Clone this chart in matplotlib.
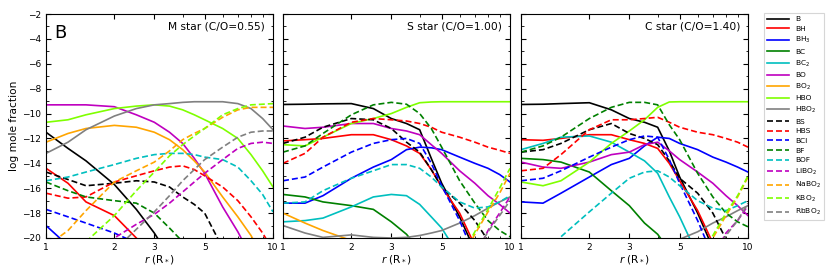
import numpy as np
import matplotlib
matplotlib.use("Agg")
import matplotlib.pyplot as plt
from matplotlib.ticker import FixedLocator, FixedFormatter, MultipleLocator, NullFormatter

n = np.nan

# radius grid (stellar radii)
R = [1, 1.25, 1.5, 2, 2.5, 3, 3.5, 4, 4.5, 5, 6, 7, 8, 9, 10]

SPECIES = ["B", "BH", "BH$_3$", "BC", "BC$_2$", "BO", "BO$_2$", "HBO", "HBO$_2$",
           "BS", "HBS", "BCl", "BF", "BOF", "LiBO$_2$", "NaBO$_2$", "KBO$_2$", "RbBO$_2$"]
COLORS = ["k", "r", "b", "g", "c", "m", "orange", "chartreuse", "gray"] * 2
STYLES = ["-"] * 9 + ["--"] * 9

# ---- M star (C/O=0.55) ----
M_B = [-11.5, -12.8, -13.8, -15.7, -17.7, -19.6, -21.5, n, n, n, n, n, n, n, n]
M_BH = [-14.4, -15.6, -17.1, -18.2, -20.0, -21.5, n, n, n, n, n, n, n, n, n]
M_BH3 = [-19.0, -20.6, n, n, n, n, n, n, n, n, n, n, n, n, n]
M_BC = [n] * 15
M_BC2 = [n] * 15
M_BO = [-9.3, -9.3, -9.3, -9.45, -10.1, -10.7, -11.5, -12.4, -13.6, -14.8, -17.5, -19.5, -21.5, n, n]
M_BO2 = [-12.3, -11.6, -11.2, -10.95, -11.1, -11.5, -12.1, -12.9, -13.8, -14.7, -16.7, -18.3, -19.8, -21.5, n]
M_HBO = [-10.7, -10.5, -10.1, -9.6, -9.4, -9.3, -9.4, -9.7, -10.1, -10.5, -11.2, -12.0, -13.3, -14.6, -15.9]
M_HBO2 = [-13.2, -12.3, -11.3, -10.2, -9.6, -9.3, -9.2, -9.1, -9.05, -9.05, -9.05, -9.2, -9.6, -10.4, -11.3]
M_BS = [-14.7, -15.3, -15.8, -15.6, -15.4, -15.5, -15.9, -16.7, -17.3, -18.0, -20.8, n, n, n, n]
M_HBS = [-16.4, -16.8, -16.7, -15.5, -15.0, -14.6, -14.3, -14.2, -14.5, -15.0, -15.9, -17.0, -18.3, -19.6, -21.0]
M_BCl = [-17.7, -18.3, -18.8, -19.6, -20.4, n, n, n, n, n, n, n, n, n, n]
M_BF = [-15.5, -16.2, -16.7, -17.0, -17.2, -18.0, -19.2, -20.3, n, n, n, n, n, n, n]
M_BOF = [-15.4, -15.1, -14.7, -14.1, -13.6, -13.3, -13.2, -13.2, -13.3, -13.5, -13.7, -14.3, -15.4, -16.5, -17.9]
M_LiBO2 = [n, n, -21.5, -20.0, -18.9, -18.1, -17.2, -16.3, -15.5, -14.8, -13.7, -12.8, -12.4, -12.3, -12.4]
M_NaBO2 = [-20.7, -19.4, -17.8, -15.5, -14.6, -13.9, -13.0, -12.1, -11.6, -11.2, -10.3, -9.7, -9.5, -9.5, -9.5]
M_KBO2 = [n, n, -20.3, -18.2, -16.2, -14.7, -13.4, -12.5, -11.8, -11.2, -10.1, -9.6, -9.3, -9.25, -9.2]
M_RbBO2 = [n, n, n, -21.0, -19.3, -17.9, -16.6, -15.4, -14.5, -13.7, -12.7, -11.9, -11.5, -11.4, -11.4]

# ---- S star (C/O=1.00) ----
S_B = [-9.27, -9.25, -9.22, -9.2, -9.6, -10.4, -10.8, -11.3, -13.6, -15.6, -18.3, -21.0, n, n, n]
S_BH = [-12.2, -12.1, -12.0, -11.7, -11.7, -12.1, -12.6, -13.2, -14.5, -15.9, -18.0, -20.6, n, n, n]
S_BH3 = [-17.2, -17.2, -16.6, -15.2, -14.3, -13.7, -12.9, -12.7, -12.75, -12.9, -13.5, -14.0, -14.4, -14.9, -15.5]
S_BC = [-16.5, -16.7, -17.1, -17.4, -17.7, -18.7, -19.7, -21.0, n, n, n, n, n, n, n]
S_BC2 = [-18.7, -18.6, -18.4, -17.5, -16.7, -16.5, -16.6, -17.3, -18.3, -19.2, -21.5, n, n, n, n]
S_BO = [-11.0, -11.2, -11.1, -10.8, -10.8, -11.2, -11.4, -11.7, -12.5, -13.2, -14.6, -15.6, -16.6, -17.3, -18.0]
S_BO2 = [-18.0, -18.8, -19.4, -20.2, n, n, n, n, n, n, n, n, n, n, n]
S_HBO = [-12.5, -12.6, -11.9, -10.8, -10.4, -10.0, -9.5, -9.13, -9.07, -9.05, -9.05, -9.05, -9.05, -9.05, -9.05]
S_HBO2 = [-19.0, -19.6, -19.95, -19.75, -19.95, -20.0, -19.95, -19.8, -19.6, -19.4, -18.8, -18.2, -17.6, -17.1, -16.7]
S_BS = [-12.4, -11.9, -11.1, -10.4, -10.5, -11.2, -12.3, -13.1, -14.5, -15.9, -17.2, -18.6, -20.2, n, n]
S_HBS = [-14.0, -13.2, -11.9, -10.7, -10.4, -10.5, -10.6, -10.8, -11.1, -11.5, -11.9, -12.3, -12.7, -12.95, -13.2]
S_BCl = [-15.4, -15.1, -14.3, -13.1, -12.4, -12.1, -12.0, -12.4, -14.0, -15.8, -18.6, -21.5, n, n, n]
S_BF = [-13.1, -12.6, -11.6, -10.1, -9.3, -9.1, -9.25, -10.0, -11.2, -12.7, -15.4, -17.2, -18.6, -19.4, -19.9]
S_BOF = [-17.2, -17.1, -16.2, -15.2, -14.6, -14.1, -14.1, -14.4, -15.1, -15.9, -17.1, -17.6, -17.5, -17.1, -16.6]
S_LiBO2 = [n] * 11 + [-21.6, -19.4, -18.0, -16.7]
S_NaBO2 = [n] * 10 + [-22.0, -19.7, -17.9, -16.4, -14.8]
S_KBO2 = [n] * 10 + [-21.7, -19.5, -17.7, -16.0, -14.4]
S_RbBO2 = [n] * 11 + [-21.3, -19.5, -18.2, -17.0]

# ---- C star (C/O=1.40) ----
C_B = [-9.27, -9.25, -9.2, -9.13, -9.7, -10.4, -10.7, -11.1, -13.0, -15.1, -18.0, -20.8, n, n, n]
C_BH = [-12.1, -12.15, -12.0, -11.7, -11.7, -12.1, -12.4, -12.8, -14.0, -15.4, -17.8, -20.4, n, n, n]
C_BH3 = [-17.1, -17.2, -16.4, -15.1, -14.1, -13.6, -12.6, -11.9, -12.0, -12.4, -12.9, -13.5, -13.9, -14.3, -14.7]
C_BC = [-13.6, -13.7, -13.9, -14.7, -16.2, -17.4, -18.8, -19.7, -21.0, n, n, n, n, n, n]
C_BC2 = [-12.9, -12.4, -11.9, -11.8, -12.3, -13.1, -13.8, -14.8, -16.7, -18.3, -21.4, n, n, n, n]
C_BO = [-13.9, -14.3, -14.4, -13.9, -13.3, -13.1, -12.5, -12.3, -13.0, -13.7, -14.7, -15.6, -16.6, -17.4, -18.2]
C_BO2 = [n] * 15
C_HBO = [-15.5, -15.8, -15.4, -13.9, -12.4, -11.4, -10.5, -9.5, -9.07, -9.05, -9.05, -9.05, -9.05, -9.05, -9.05]
C_HBO2 = [n] * 8 + [-20.8, -20.1, -19.5, -18.8, -18.3, -17.8, -17.4]
C_BS = [-13.1, -12.9, -12.4, -11.3, -10.8, -11.6, -12.0, -12.5, -13.8, -15.2, -16.4, -18.0, -20.1, n, n]
C_HBS = [-14.6, -14.4, -13.3, -11.3, -10.5, -10.5, -10.4, -10.3, -10.7, -11.1, -11.5, -11.7, -12.0, -12.3, -12.7]
C_BCl = [-15.4, -15.2, -14.6, -13.5, -12.7, -12.1, -11.8, -11.9, -13.7, -15.6, -18.6, -21.5, n, n, n]
C_BF = [-13.1, -12.6, -11.9, -10.4, -9.5, -9.1, -9.1, -9.3, -10.9, -12.1, -14.8, -16.7, -18.0, -18.7, -19.1]
C_BOF = [n, -21.5, -19.9, -17.9, -16.4, -15.2, -14.7, -14.6, -15.1, -15.8, -17.0, -17.6, -17.8, -17.4, -17.0]
C_LiBO2 = [n] * 11 + [-21.6, -19.6, -18.6, -17.4]
C_NaBO2 = [n] * 10 + [-22.5, -20.0, -18.2, -16.7, -15.1]
C_KBO2 = [n] * 10 + [-22.5, -19.8, -18.0, -16.6, -15.0]
C_RbBO2 = [n] * 11 + [-21.5, -19.8, -18.6, -17.2]

PANELS = [
    ("M star (C/O=0.55)", [M_B, M_BH, M_BH3, M_BC, M_BC2, M_BO, M_BO2, M_HBO, M_HBO2,
                           M_BS, M_HBS, M_BCl, M_BF, M_BOF, M_LiBO2, M_NaBO2, M_KBO2, M_RbBO2]),
    ("S star (C/O=1.00)", [S_B, S_BH, S_BH3, S_BC, S_BC2, S_BO, S_BO2, S_HBO, S_HBO2,
                           S_BS, S_HBS, S_BCl, S_BF, S_BOF, S_LiBO2, S_NaBO2, S_KBO2, S_RbBO2]),
    ("C star (C/O=1.40)", [C_B, C_BH, C_BH3, C_BC, C_BC2, C_BO, C_BO2, C_HBO, C_HBO2,
                           C_BS, C_HBS, C_BCl, C_BF, C_BOF, C_LiBO2, C_NaBO2, C_KBO2, C_RbBO2]),
]

fig = plt.figure(figsize=(8.3, 2.7), dpi=100)
lefts = [46 / 830, 283 / 830, 521 / 830]
width = 227 / 830
bottom = 32 / 270
height = 224 / 270

handles = []
for i, (title, series) in enumerate(PANELS):
    ax = fig.add_axes([lefts[i], bottom, width, height])
    for j, vals in enumerate(series):
        line, = ax.plot(R, vals, color=COLORS[j], ls=STYLES[j], lw=1.2,
                        label=SPECIES[j])
        if STYLES[j] == "--":
            line.set_dashes((3.6, 1.8))
        if i == 0:
            handles.append(line)
    ax.set_xscale("log")
    ax.set_xlim(1, 10)
    ax.set_ylim(-20, -2)
    ax.xaxis.set_major_locator(FixedLocator([1, 2, 3, 5, 10]))
    ax.xaxis.set_major_formatter(FixedFormatter(["1", "2", "3", "5", "10"]))
    ax.xaxis.set_minor_locator(FixedLocator([4, 6, 7, 8, 9]))
    ax.xaxis.set_minor_formatter(NullFormatter())
    ax.yaxis.set_major_locator(MultipleLocator(2))
    ax.yaxis.set_minor_locator(MultipleLocator(1))
    ax.tick_params(which="both", direction="in", top=True, right=True, labelsize=6.5)
    ax.tick_params(which="major", length=3.5, width=0.8)
    ax.tick_params(which="minor", length=1.8, width=0.6)
    ax.set_xlabel("$r$ (R$_*$)", fontsize=7.6, labelpad=1)
    if i == 0:
        ax.set_ylabel("log mole fraction", fontsize=7.6, labelpad=2)
        ax.text(0.035, 0.955, "B", transform=ax.transAxes, fontsize=13,
                ha="left", va="top")
    else:
        ax.tick_params(labelleft=False)
    ax.text(0.965, 0.946, title, transform=ax.transAxes, fontsize=7.7,
            ha="right", va="center")

leg = fig.legend(handles=handles, loc="upper left",
                 bbox_to_anchor=(764 / 830, 1 - 13 / 270), borderaxespad=0,
                 fontsize=5.4, handlelength=2.9, handletextpad=0.8,
                 labelspacing=0.45, fancybox=False, frameon=True)
leg.get_frame().set_edgecolor("#cccccc")
leg.get_frame().set_linewidth(0.8)

fig.savefig("out.png", dpi=100)
